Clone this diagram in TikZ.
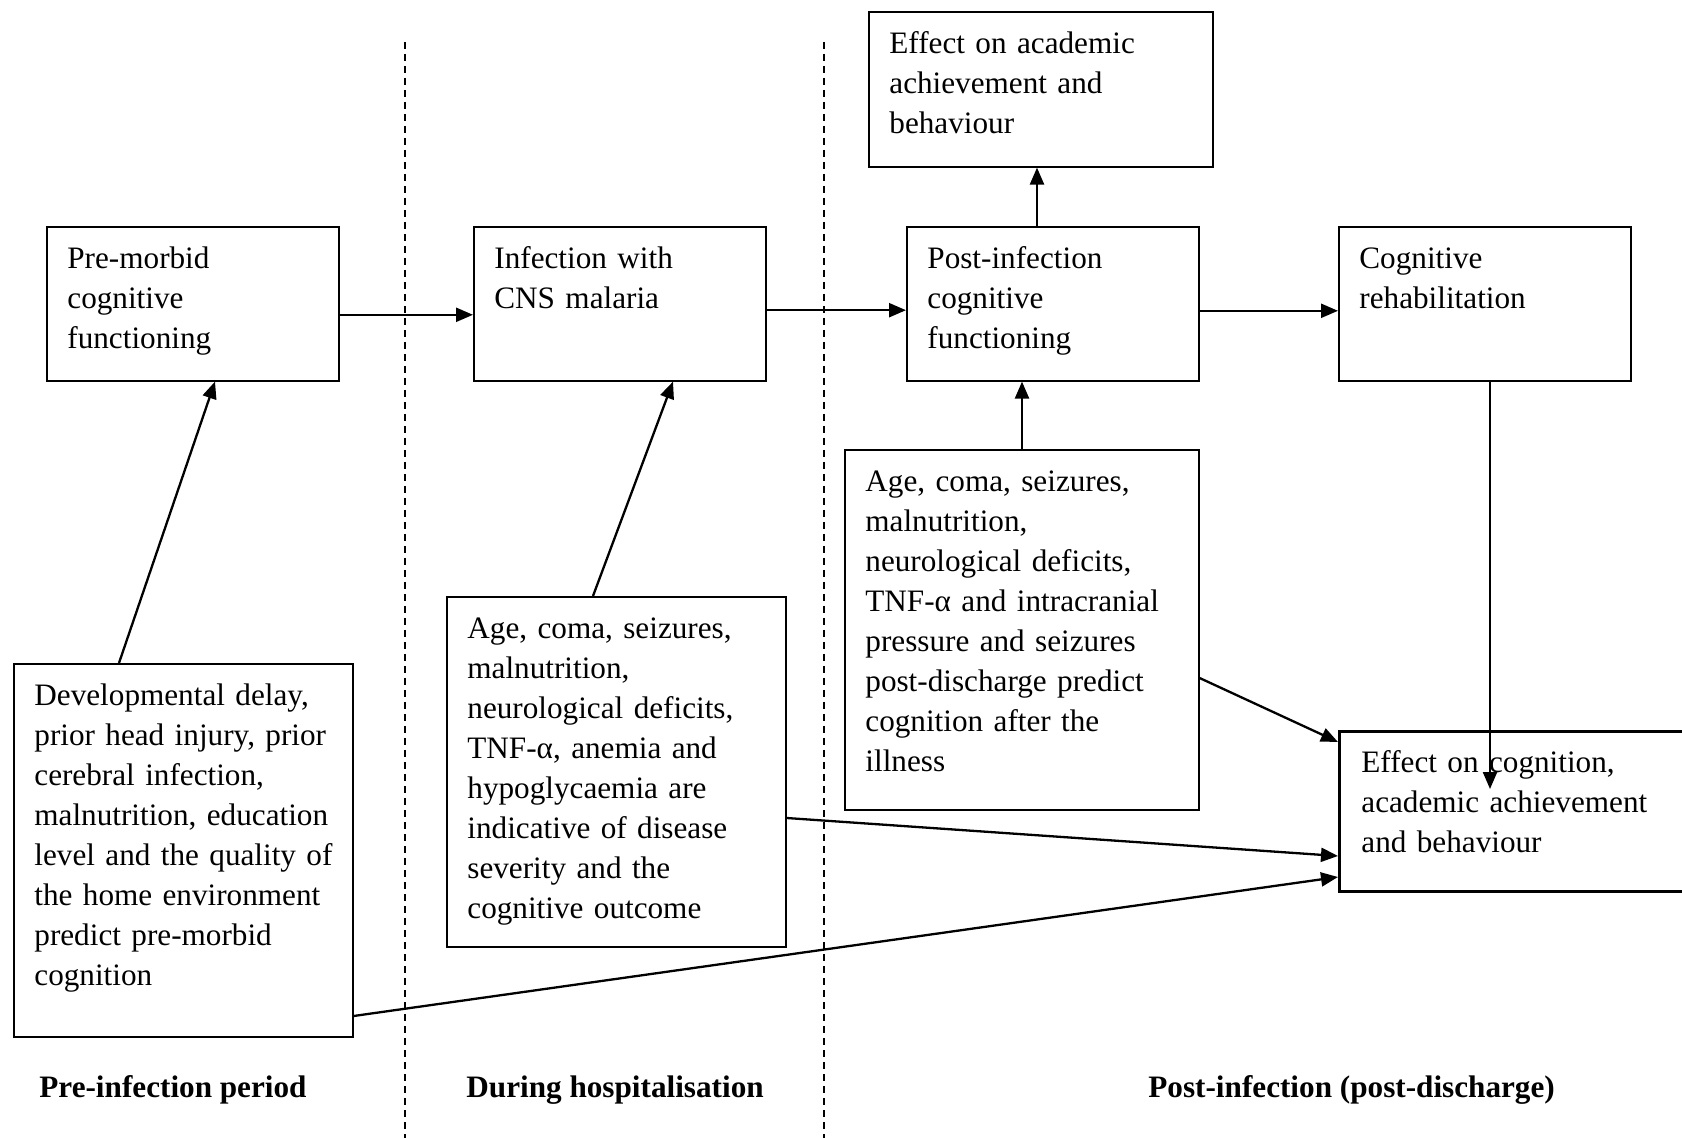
\documentclass[tikz,border=0pt]{standalone}
\usepackage{fontspec}
\setmainfont{Liberation Serif}
\usetikzlibrary{arrows.meta}
\begin{document}
\begin{tikzpicture}[x=0.5pt,y=-0.5pt,
  box/.style={draw, line width=0.8pt, inner sep=0pt, anchor=north west, rectangle},
  thickbox/.style={box, line width=1.6pt},
  txt/.style={inner sep=0pt, anchor=north west, align=left, text width=200pt,
    font=\fontsize{15.6}{20}\selectfont, execute at begin node=\strut},
  lbl/.style={inner sep=0pt, anchor=base west, font=\fontsize{15.6}{20}\selectfont\bfseries},
  arr/.style={line width=1.15pt, -{Triangle[length=8.5pt,width=7pt]}},
  divider/.style={line width=0.6pt, dash pattern=on 3.5pt off 2.5pt}]
\useasboundingbox (0,0) rectangle (1682,1138);

% dividers
\coordinate (d1t) at (405,42);
\coordinate (d1b) at (405,1138);
\coordinate (d2t) at (824,42);
\coordinate (d2b) at (824,1138);
\draw[divider] (d1t) -- (d1b);
\draw[divider] (d2t) -- (d2b);

% boxes
\node[box, minimum width=146pt, minimum height=77pt] (pm) at (46,226) {};
\node[box, minimum width=146pt, minimum height=77pt] (inf) at (473,226) {};
\node[box, minimum width=146pt, minimum height=77pt] (post) at (906,226) {};
\node[box, minimum width=146pt, minimum height=77pt] (reh) at (1338,226) {};
\node[box, minimum width=172pt, minimum height=77.5pt] (acad) at (868,11) {};
\node[box, minimum width=177pt, minimum height=180pt] (ap) at (844,449) {};
\node[box, minimum width=169.5pt, minimum height=175pt] (ah) at (446,596) {};
\node[box, minimum width=169.5pt, minimum height=186.5pt] (dev) at (13,663) {};
\node[thickbox, minimum width=190pt, minimum height=80pt] (cog) at (1338,730) {};

% texts
\node[txt] (pmt) at ([xshift=10.5pt,yshift=-7.25pt]pm.north west) {Pre-morbid\\cognitive\\functioning};
\node[txt] (inft) at ([xshift=10.5pt,yshift=-7.25pt]inf.north west) {Infection with\\CNS malaria};
\node[txt] (postt) at ([xshift=10.5pt,yshift=-7.25pt]post.north west) {Post-infection\\cognitive\\functioning};
\node[txt] (reht) at ([xshift=10.5pt,yshift=-7.25pt]reh.north west) {Cognitive\\rehabilitation};
\node[txt] (acadt) at ([xshift=10.5pt,yshift=-7.25pt]acad.north west) {Effect on academic\\achievement and\\behaviour};
\node[txt] (apt) at ([xshift=10.5pt,yshift=-7.25pt]ap.north west) {Age, coma, seizures,\\malnutrition,\\neurological deficits,\\TNF-α and intracranial\\pressure and seizures\\post-discharge predict\\cognition after the\\illness};
\node[txt] (aht) at ([xshift=10.5pt,yshift=-7.25pt]ah.north west) {Age, coma, seizures,\\malnutrition,\\neurological deficits,\\TNF-α, anemia and\\hypoglycaemia are\\indicative of disease\\severity and the\\cognitive outcome};
\node[txt] (devt) at ([xshift=10.5pt,yshift=-7.25pt]dev.north west) {Developmental delay,\\prior head injury, prior\\cerebral infection,\\malnutrition, education\\level and the quality of\\the home environment\\predict pre-morbid\\cognition};
\node[txt] (cogt) at ([xshift=11.5pt,yshift=-7.25pt]cog.north west) {Effect on cognition,\\academic achievement\\and behaviour};

% period labels
\node[lbl] (l1) at (39,1097) {Pre-infection period};
\node[lbl] (l2) at (466,1097) {During hospitalisation};
\node[lbl] (l3) at (1148,1097) {Post-infection (post-discharge)};

% connectors
\draw[arr] ([yshift=-5.5pt]pm.east) -- ([yshift=-5.5pt]pm.east -| inf.west);
\draw[arr] ([yshift=-3.2pt]inf.east) -- ([yshift=-3.2pt]inf.east -| post.west);
\draw[arr] ([yshift=-3.5pt]post.east) -- ([yshift=-3.5pt]post.east -| reh.west);
\draw[arr] ([xshift=65.5pt]post.north west) -- ([xshift=65.5pt]post.north west |- acad.south);
\draw[arr] ([xshift=89pt]ap.north west) -- ([xshift=89pt]ap.north west |- post.south);
\draw[arr] ([xshift=53pt]dev.north west) -- ([xshift=84.5pt]pm.south west);
\draw[arr] ([xshift=73.5pt]ah.north west) -- ([xshift=100pt]inf.south west);
\coordinate (rehend) at (1490,789);
\draw[arr] ([xshift=76pt]reh.south west) -- (rehend);
\draw[arr] ([yshift=-114.5pt]ap.north east) -- ([yshift=-6pt]cog.north west);
\draw[arr] ([yshift=-111pt]ah.north east) -- ([yshift=-63pt]cog.north west);
\draw[arr] ([yshift=-176.5pt]dev.north east) -- ([yshift=-73.5pt]cog.north west);
\end{tikzpicture}
\end{document}
